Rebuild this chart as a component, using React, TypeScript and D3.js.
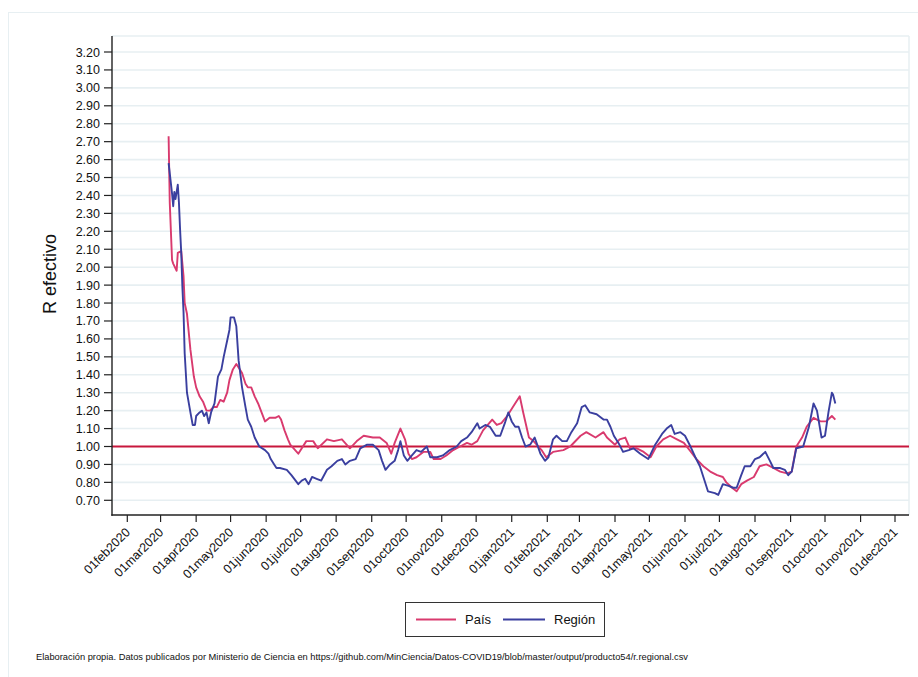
import React from "react";
import * as d3 from "d3";

const yTicks: number[] = [0.7, 0.8, 0.9, 1.0, 1.1, 1.2, 1.3, 1.4, 1.5, 1.6, 1.7, 1.8, 1.9, 2.0, 2.1, 2.2, 2.3, 2.4, 2.5, 2.6, 2.7, 2.8, 2.9, 3.0, 3.1, 3.2];
const xTickDates: string[] = [
  "2020-02-01", "2020-03-01", "2020-04-01", "2020-05-01", "2020-06-01", "2020-07-01", "2020-08-01", "2020-09-01",
  "2020-10-01", "2020-11-01", "2020-12-01", "2021-01-01", "2021-02-01", "2021-03-01", "2021-04-01", "2021-05-01",
  "2021-06-01", "2021-07-01", "2021-08-01", "2021-09-01", "2021-10-01", "2021-11-01", "2021-12-01",
];
const referenceValue = 1.0;

const pais: [string, number][] = [
  ["2020-03-08", 2.73], ["2020-03-09", 2.36], ["2020-03-11", 2.04], ["2020-03-12", 2.02], ["2020-03-15", 1.98], ["2020-03-16", 2.08],
  ["2020-03-19", 2.09], ["2020-03-21", 1.95], ["2020-03-22", 1.8], ["2020-03-24", 1.74], ["2020-03-27", 1.54], ["2020-03-30", 1.39],
  ["2020-04-01", 1.33], ["2020-04-04", 1.28], ["2020-04-07", 1.25], ["2020-04-10", 1.2], ["2020-04-13", 1.2], ["2020-04-16", 1.22],
  ["2020-04-19", 1.22], ["2020-04-22", 1.26], ["2020-04-25", 1.25], ["2020-04-28", 1.3], ["2020-04-30", 1.37], ["2020-05-03", 1.43],
  ["2020-05-06", 1.46], ["2020-05-08", 1.44], ["2020-05-11", 1.41], ["2020-05-14", 1.35], ["2020-05-16", 1.33], ["2020-05-19", 1.33],
  ["2020-05-22", 1.28], ["2020-05-25", 1.24], ["2020-05-28", 1.19], ["2020-05-31", 1.14], ["2020-06-04", 1.16], ["2020-06-09", 1.16],
  ["2020-06-12", 1.17], ["2020-06-14", 1.15], ["2020-06-17", 1.09], ["2020-06-20", 1.04], ["2020-06-22", 1.01], ["2020-06-29", 0.96],
  ["2020-07-06", 1.03], ["2020-07-12", 1.03], ["2020-07-16", 0.99], ["2020-07-24", 1.04], ["2020-07-30", 1.03], ["2020-08-06", 1.04],
  ["2020-08-13", 0.99], ["2020-08-19", 1.03], ["2020-08-25", 1.06], ["2020-09-02", 1.05], ["2020-09-08", 1.05], ["2020-09-14", 1.02],
  ["2020-09-18", 0.96], ["2020-09-21", 1.02], ["2020-09-26", 1.1], ["2020-09-30", 1.04], ["2020-10-03", 0.96], ["2020-10-06", 0.93],
  ["2020-10-10", 0.94], ["2020-10-16", 0.97], ["2020-10-22", 0.97], ["2020-10-25", 0.93], ["2020-10-31", 0.93], ["2020-11-05", 0.95],
  ["2020-11-11", 0.98], ["2020-11-17", 1.0], ["2020-11-23", 1.02], ["2020-11-27", 1.01], ["2020-12-02", 1.03], ["2020-12-07", 1.09],
  ["2020-12-15", 1.15], ["2020-12-19", 1.12], ["2020-12-23", 1.13], ["2020-12-28", 1.17], ["2021-01-02", 1.22], ["2021-01-08", 1.28],
  ["2021-01-11", 1.19], ["2021-01-16", 1.05], ["2021-01-20", 1.03], ["2021-01-27", 0.98], ["2021-01-31", 0.94], ["2021-02-06", 0.97],
  ["2021-02-15", 0.98], ["2021-02-21", 1.0], ["2021-03-02", 1.06], ["2021-03-07", 1.08], ["2021-03-15", 1.05], ["2021-03-22", 1.08],
  ["2021-03-25", 1.05], ["2021-04-01", 1.01], ["2021-04-05", 1.04], ["2021-04-10", 1.05], ["2021-04-14", 0.99], ["2021-04-20", 0.99],
  ["2021-04-26", 0.97], ["2021-05-02", 0.94], ["2021-05-07", 1.0], ["2021-05-13", 1.04], ["2021-05-19", 1.06], ["2021-05-25", 1.04],
  ["2021-05-31", 1.02], ["2021-06-05", 0.98], ["2021-06-11", 0.93], ["2021-06-17", 0.89], ["2021-06-23", 0.86], ["2021-06-29", 0.84],
  ["2021-07-04", 0.83], ["2021-07-07", 0.8], ["2021-07-12", 0.77], ["2021-07-16", 0.75], ["2021-07-20", 0.79], ["2021-07-25", 0.81],
  ["2021-07-31", 0.83], ["2021-08-05", 0.89], ["2021-08-11", 0.9], ["2021-08-17", 0.88], ["2021-08-23", 0.86], ["2021-08-29", 0.85],
  ["2021-09-02", 0.86], ["2021-09-06", 1.0], ["2021-09-11", 1.05], ["2021-09-15", 1.11], ["2021-09-21", 1.16], ["2021-09-27", 1.14],
  ["2021-10-02", 1.14], ["2021-10-07", 1.17], ["2021-10-10", 1.15],
];

const region: [string, number][] = [
  ["2020-03-08", 2.58], ["2020-03-11", 2.41], ["2020-03-12", 2.34], ["2020-03-13", 2.42], ["2020-03-14", 2.38], ["2020-03-16", 2.46],
  ["2020-03-17", 2.36], ["2020-03-18", 2.21], ["2020-03-19", 2.08], ["2020-03-20", 1.89], ["2020-03-21", 1.75], ["2020-03-22", 1.52],
  ["2020-03-24", 1.3], ["2020-03-27", 1.19], ["2020-03-29", 1.12], ["2020-03-31", 1.12], ["2020-04-01", 1.17], ["2020-04-04", 1.19],
  ["2020-04-06", 1.2], ["2020-04-08", 1.17], ["2020-04-10", 1.19], ["2020-04-12", 1.13], ["2020-04-14", 1.19], ["2020-04-17", 1.24],
  ["2020-04-20", 1.39], ["2020-04-23", 1.43], ["2020-04-25", 1.5], ["2020-04-28", 1.59], ["2020-04-30", 1.65], ["2020-05-01", 1.72],
  ["2020-05-04", 1.72], ["2020-05-06", 1.67], ["2020-05-08", 1.48], ["2020-05-11", 1.33], ["2020-05-14", 1.22], ["2020-05-16", 1.15],
  ["2020-05-19", 1.11], ["2020-05-22", 1.05], ["2020-05-26", 1.0], ["2020-05-31", 0.98], ["2020-06-03", 0.96], ["2020-06-05", 0.93],
  ["2020-06-08", 0.9], ["2020-06-10", 0.88], ["2020-06-13", 0.88], ["2020-06-19", 0.87], ["2020-06-23", 0.84], ["2020-06-29", 0.79],
  ["2020-07-02", 0.81], ["2020-07-05", 0.82], ["2020-07-08", 0.79], ["2020-07-11", 0.83], ["2020-07-15", 0.82], ["2020-07-19", 0.81],
  ["2020-07-24", 0.87], ["2020-07-28", 0.89], ["2020-08-02", 0.92], ["2020-08-06", 0.93], ["2020-08-09", 0.9], ["2020-08-13", 0.92],
  ["2020-08-18", 0.93], ["2020-08-22", 0.99], ["2020-08-28", 1.01], ["2020-09-02", 1.01], ["2020-09-07", 0.98], ["2020-09-10", 0.92],
  ["2020-09-13", 0.87], ["2020-09-17", 0.9], ["2020-09-21", 0.92], ["2020-09-24", 0.98], ["2020-09-26", 1.03], ["2020-09-29", 0.95],
  ["2020-10-02", 0.92], ["2020-10-06", 0.95], ["2020-10-10", 0.98], ["2020-10-14", 0.97], ["2020-10-19", 1.0], ["2020-10-22", 0.94],
  ["2020-10-28", 0.94], ["2020-11-02", 0.95], ["2020-11-08", 0.98], ["2020-11-14", 1.0], ["2020-11-18", 1.03], ["2020-11-23", 1.05],
  ["2020-11-27", 1.08], ["2020-12-02", 1.13], ["2020-12-04", 1.1], ["2020-12-09", 1.12], ["2020-12-13", 1.11], ["2020-12-18", 1.06],
  ["2020-12-22", 1.06], ["2020-12-26", 1.13], ["2020-12-29", 1.19], ["2021-01-01", 1.14], ["2021-01-04", 1.11], ["2021-01-07", 1.11],
  ["2021-01-10", 1.05], ["2021-01-13", 1.0], ["2021-01-17", 1.01], ["2021-01-21", 1.05], ["2021-01-26", 0.96], ["2021-01-30", 0.92],
  ["2021-02-02", 0.94], ["2021-02-06", 1.04], ["2021-02-09", 1.06], ["2021-02-14", 1.03], ["2021-02-18", 1.03], ["2021-02-22", 1.08],
  ["2021-02-27", 1.13], ["2021-03-03", 1.22], ["2021-03-06", 1.23], ["2021-03-10", 1.19], ["2021-03-16", 1.18], ["2021-03-22", 1.15],
  ["2021-03-25", 1.15], ["2021-03-28", 1.11], ["2021-03-31", 1.06], ["2021-04-04", 1.02], ["2021-04-08", 0.97], ["2021-04-13", 0.98],
  ["2021-04-17", 0.99], ["2021-04-23", 0.96], ["2021-04-30", 0.93], ["2021-05-06", 1.01], ["2021-05-12", 1.07], ["2021-05-16", 1.1],
  ["2021-05-20", 1.12], ["2021-05-23", 1.07], ["2021-05-28", 1.08], ["2021-06-01", 1.06], ["2021-06-05", 1.01], ["2021-06-10", 0.94],
  ["2021-06-14", 0.89], ["2021-06-18", 0.81], ["2021-06-21", 0.75], ["2021-06-27", 0.74], ["2021-06-30", 0.73], ["2021-07-04", 0.79],
  ["2021-07-09", 0.78], ["2021-07-13", 0.77], ["2021-07-16", 0.77], ["2021-07-20", 0.84], ["2021-07-23", 0.89], ["2021-07-28", 0.89],
  ["2021-08-01", 0.93], ["2021-08-05", 0.94], ["2021-08-10", 0.97], ["2021-08-14", 0.92], ["2021-08-17", 0.88], ["2021-08-23", 0.88],
  ["2021-08-27", 0.87], ["2021-08-30", 0.84], ["2021-09-02", 0.86], ["2021-09-06", 0.99], ["2021-09-12", 1.0], ["2021-09-17", 1.11],
  ["2021-09-21", 1.24], ["2021-09-24", 1.2], ["2021-09-28", 1.05], ["2021-10-01", 1.06], ["2021-10-04", 1.19], ["2021-10-07", 1.3],
  ["2021-10-08", 1.29], ["2021-10-10", 1.24],
];

const seriesNames: string[] = ["País", "Región"];
const yTitle = "R efectivo";
const note =
  "Elaboración propia. Datos publicados por Ministerio de Ciencia en https://github.com/MinCiencia/Datos-COVID19/blob/master/output/producto54/r.regional.csv";

const parse = d3.utcParse("%Y-%m-%d");
const FONT = "'Liberation Sans', Arial, Helvetica, sans-serif";
const PINK = "#d93a6e";
const BLUE = "#3a3f9f";
const REFRED = "#c8173c";
const GRID = "#e7eff2";

export default function App() {
  const W = 918;
  const H = 677;
  const plotL = 112;
  const plotR = 909;
  const plotT = 36;
  const plotB = 515;

  const x = d3
    .scaleUtc()
    .domain([parse("2020-02-01")!, parse("2021-12-01")!])
    .range([127.3, 895]);
  const y = d3.scaleLinear().domain([1.0, 3.2]).range([446.5, 52]);

  const line = d3
    .line<[string, number]>()
    .x((d) => x(parse(d[0])!))
    .y((d) => y(d[1]));

  const fmt = d3.utcFormat("%d%b%Y");

  return (
    <svg
      width={W}
      height={H}
      style={{ position: "absolute", left: 0, top: 0, background: "#fff" }}
      fontFamily={FONT}
    >
      <rect x={8.5} y={12.5} width={W + 20} height={H + 20} fill="#fff" stroke={GRID} strokeWidth={1} />
      {/* plot region border (top/right) */}
      <line x1={plotL} x2={plotR} y1={plotT} y2={plotT} stroke={GRID} strokeWidth={1.5} />
      <line x1={plotR} x2={plotR} y1={plotT} y2={plotB} stroke={GRID} strokeWidth={1.5} />
      {/* gridlines */}
      {yTicks
        .filter((t) => Math.abs(t - referenceValue) > 1e-9)
        .map((t) => (
          <line key={"g" + t} x1={plotL} x2={plotR} y1={y(t)} y2={y(t)} stroke={GRID} strokeWidth={1.6} />
        ))}
      {/* reference line */}
      <line x1={plotL} x2={plotR} y1={y(referenceValue)} y2={y(referenceValue)} stroke={REFRED} strokeWidth={2} />
      {/* series */}
      <path d={line(pais) || ""} fill="none" stroke={PINK} strokeWidth={1.9} strokeLinejoin="round" />
      <path d={line(region) || ""} fill="none" stroke={BLUE} strokeWidth={1.9} strokeLinejoin="round" />
      {/* axes */}
      <line x1={plotL} x2={plotL} y1={plotT} y2={plotB + 0.7} stroke="#222" strokeWidth={1.4} />
      <line x1={plotL - 0.7} x2={plotR} y1={plotB} y2={plotB} stroke="#222" strokeWidth={1.4} />
      {yTicks.map((t) => (
        <g key={"yt" + t}>
          <line x1={plotL - 8} x2={plotL} y1={y(t)} y2={y(t)} stroke="#222" strokeWidth={1.2} />
          <text x={plotL - 12} y={y(t)} dy="0.36em" textAnchor="end" fontSize={12.5} fill="#111">
            {t.toFixed(2)}
          </text>
        </g>
      ))}
      {xTickDates.map((s) => {
        const xx = x(parse(s)!);
        return (
          <g key={"xt" + s}>
            <line x1={xx} x2={xx} y1={plotB} y2={plotB + 7} stroke="#222" strokeWidth={1.2} />
            <text
              transform={`translate(${xx + 3.5},${plotB + 18}) rotate(-45)`}
              textAnchor="end"
              fontSize={12.5}
              fill="#111"
            >
              {fmt(parse(s)!).toLowerCase()}
            </text>
          </g>
        );
      })}
      <text transform={`translate(55.5,274) rotate(-90)`} textAnchor="middle" fontSize={18} fill="#111">
        {yTitle}
      </text>
      {/* legend */}
      <rect x={405.5} y={602.5} width={199} height={34} fill="#fff" stroke="#333" strokeWidth={1} />
      <line x1={416} x2={456} y1={619.5} y2={619.5} stroke={PINK} strokeWidth={2} />
      <text x={465} y={624} fontSize={13} fill="#111">
        {seriesNames[0]}
      </text>
      <line x1={503} x2={545} y1={619.5} y2={619.5} stroke={BLUE} strokeWidth={2} />
      <text x={554} y={624} fontSize={13} fill="#111">
        {seriesNames[1]}
      </text>
      <text x={36} y={660} fontSize={9} fill="#111" textLength={652} lengthAdjust="spacingAndGlyphs">
        {note}
      </text>
    </svg>
  );
}
